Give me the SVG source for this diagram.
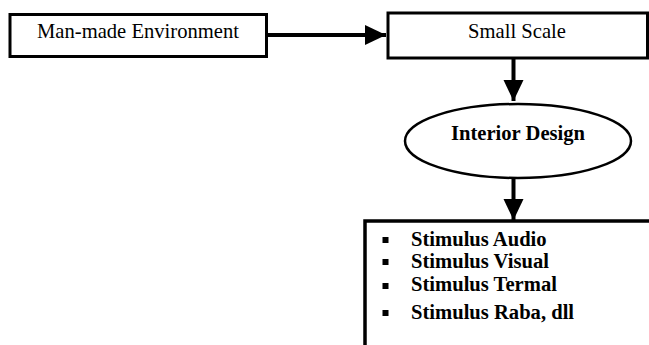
<svg xmlns="http://www.w3.org/2000/svg" width="649" height="345" viewBox="0 0 649 345">
<defs>
<style>
.box{fill:#fff;stroke:#000;stroke-width:3}
.t{font-family:"Liberation Serif","Times New Roman",serif;font-size:20.6px;fill:#000}
.b{font-weight:bold}
.c{stroke:#000;stroke-width:4;fill:none}
</style>
<marker id="ah" markerUnits="userSpaceOnUse" markerWidth="22" markerHeight="22" refX="21" refY="10" orient="auto" viewBox="0 0 22 20">
<path d="M0,0 L21,10 L0,20 Z" fill="#000"/>
</marker>
</defs>
<rect width="649" height="345" fill="#fff"/>
<g id="connectors">
<line class="c" x1="268" y1="35" x2="386" y2="35" marker-end="url(#ah)"/>
<line class="c" x1="513.5" y1="59" x2="513.5" y2="101" marker-end="url(#ah)"/>
<line class="c" x1="513.5" y1="179" x2="513.5" y2="220" marker-end="url(#ah)"/>
</g>
<g id="man-made">
<rect class="box" x="10" y="14.5" width="256.5" height="42"/>
<text class="t" x="138" y="38" text-anchor="middle">Man-made Environment</text>
</g>
<g id="small-scale">
<rect class="box" x="388" y="13" width="259.5" height="45"/>
<text class="t" x="517" y="38" text-anchor="middle">Small Scale</text>
</g>
<g id="interior-design">
<ellipse cx="518" cy="141" rx="113" ry="37" fill="#fff" stroke="#000" stroke-width="2.5"/>
<text class="t b" x="518" y="140" text-anchor="middle">Interior Design</text>
</g>
<g id="stimulus">
<path d="M365,347 L365,221 L651,221" fill="none" stroke="#000" stroke-width="3.5"/>
<rect x="382.5" y="237" width="6" height="6"/>
<rect x="382.5" y="259" width="6" height="6"/>
<rect x="382.5" y="283" width="6" height="6"/>
<rect x="382.5" y="310" width="6" height="6"/>
<text class="t b" x="411" y="246">Stimulus Audio</text>
<text class="t b" x="411" y="268">Stimulus Visual</text>
<text class="t b" x="411" y="291">Stimulus Termal</text>
<text class="t b" x="411" y="319">Stimulus Raba, dll</text>
</g>
</svg>
